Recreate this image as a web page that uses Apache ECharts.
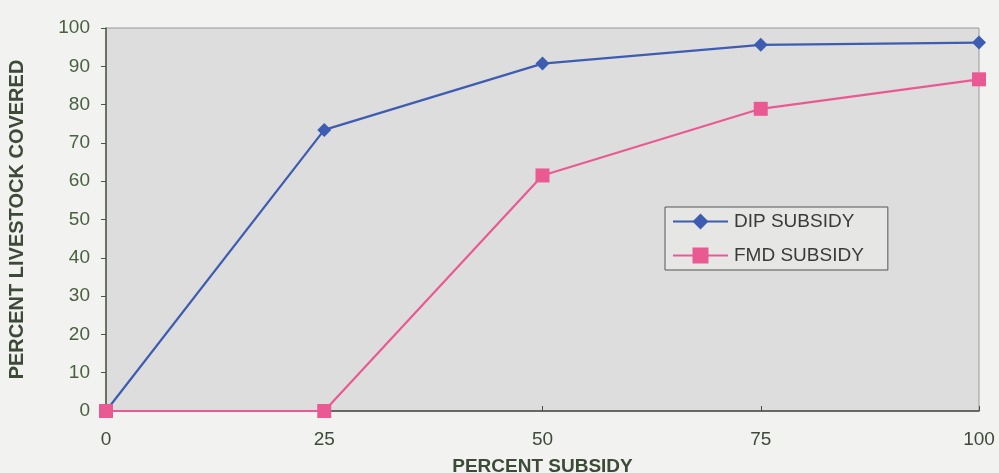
<!DOCTYPE html>
<html>
<head>
<meta charset="utf-8">
<script src="https://cdn.jsdelivr.net/npm/echarts@6/dist/echarts.min.js"></script>
<style>
  html, body { margin: 0; padding: 0; background: #f2f2f0; }
  #chart { width: 999px; height: 473px; }
</style>
</head>
<body>
<div id="chart"></div>
<script>
// Subsidy levels (percent) on the x axis
const subsidyLevels = [0, 25, 50, 75, 100];
// Percent of livestock covered at each subsidy level
const dipSubsidy = [0, 73.4, 90.7, 95.6, 96.2];
const fmdSubsidy = [0, 0, 61.5, 78.9, 86.6];
const seriesNames = ['DIP SUBSIDY', 'FMD SUBSIDY'];
const xAxisTitle = 'PERCENT SUBSIDY';
const yAxisTitle = 'PERCENT LIVESTOCK COVERED';

const pairs = (xs, ys) => xs.map((x, i) => [x, ys[i]]);
const textColor = '#3d4a38';
const font = 'Liberation Sans';

const chart = echarts.init(document.getElementById('chart'));
chart.setOption({
  backgroundColor: '#f2f2f0',
  animation: false,
  grid: {
    left: 106, right: 20, top: 28, bottom: 62,
    outerBoundsMode: 'none',
    show: true, backgroundColor: '#dddddd', borderColor: '#9a9a9a', borderWidth: 1
  },
  legend: {
    orient: 'vertical',
    left: 665, top: 207,
    padding: [5, 24, 5, 7],
    itemGap: 15,
    itemWidth: 55, itemHeight: 20,
    backgroundColor: '#e6e6e4',
    borderColor: '#555',
    borderWidth: 1,
    borderRadius: 0,
    textStyle: { color: '#3a3a3a', fontSize: 19, fontFamily: font, padding: [0, 0, 0, 1] },
    data: seriesNames
  },
  xAxis: {
    type: 'value', min: 0, max: 100, interval: 25,
    name: xAxisTitle, nameLocation: 'middle', nameGap: 46,
    nameTextStyle: { color: textColor, fontSize: 19, fontWeight: 'bold', fontFamily: font },
    axisLine: { lineStyle: { color: '#4a4a4a', width: 1.5 } },
    axisTick: { show: true, inside: true, length: 5, lineStyle: { color: '#4a4a4a' } },
    axisLabel: { color: textColor, fontSize: 19, fontFamily: font, margin: 19 },
    splitLine: { show: false }
  },
  yAxis: {
    type: 'value', min: 0, max: 100, interval: 10,
    name: yAxisTitle, nameLocation: 'middle', nameGap: 79, nameRotate: 90,
    nameTextStyle: { color: textColor, fontSize: 20, fontWeight: 'bold', fontFamily: font },
    axisLine: { show: true, lineStyle: { color: '#4a5a40', width: 1.5 } },
    axisTick: { show: true, length: 5, lineStyle: { color: '#4a5a40' } },
    axisLabel: { color: '#4a6040', fontSize: 19, fontFamily: font, margin: 16 },
    splitLine: { show: false }
  },
  series: [
    {
      name: seriesNames[0], type: 'line',
      data: pairs(subsidyLevels, dipSubsidy),
      symbol: 'diamond', symbolSize: 14,
      lineStyle: { color: '#3d5cb2', width: 2.2 },
      itemStyle: { color: '#3d5cb2' },
      z: 3
    },
    {
      name: seriesNames[1], type: 'line',
      data: pairs(subsidyLevels, fmdSubsidy),
      symbol: 'rect', symbolSize: 14,
      lineStyle: { color: '#ea5a92', width: 2.2 },
      itemStyle: { color: '#ea5a92' },
      z: 4
    }
  ]
});
</script>
</body>
</html>
